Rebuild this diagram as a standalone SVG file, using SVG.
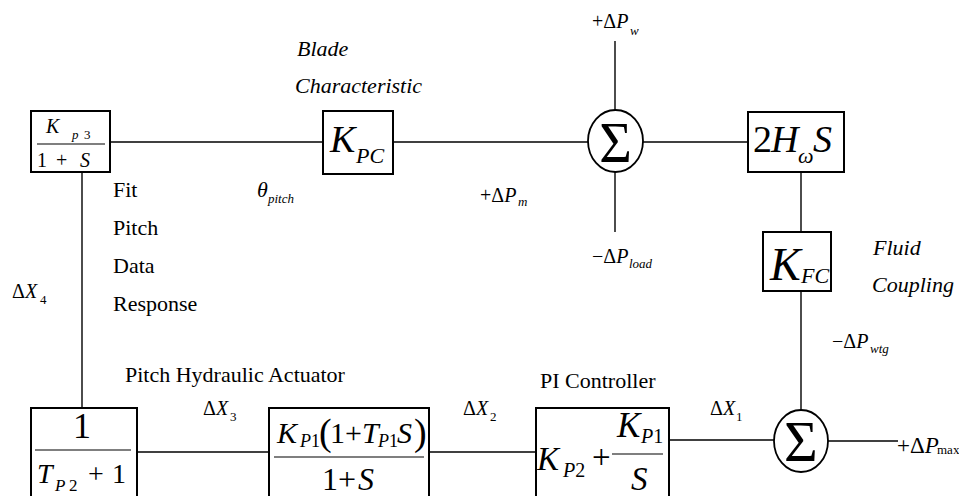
<svg xmlns="http://www.w3.org/2000/svg" width="959" height="496" viewBox="0 0 959 496" font-family="'Liberation Serif', Tinos, 'DejaVu Serif', serif">
<style>
text, tspan{font-family:"Liberation Serif", Tinos, "Times New Roman", "DejaVu Serif", serif;fill:#000}
.i{font-style:italic}
.box{fill:#fff;stroke:#000;stroke-width:2}
.sum{fill:#fff;stroke:#000;stroke-width:1.8}
.ln{stroke:#000;stroke-width:1.4;fill:none}
.fr{stroke:#000;stroke-width:1.2}
.lb{font-size:22px}
.m{font-size:20px}
.s{font-size:13px}
</style>
<rect width="959" height="496" fill="#fff"/>
<g id="connectors">
<line class="ln" x1="110" y1="142" x2="323" y2="142"/>
<line class="ln" x1="393" y1="142" x2="588" y2="142"/>
<line class="ln" x1="643" y1="142" x2="753" y2="142"/>
<line class="ln" x1="615" y1="41" x2="615" y2="110"/>
<line class="ln" x1="615" y1="172" x2="615" y2="232"/>
<line class="ln" x1="801" y1="172" x2="801" y2="232"/>
<line class="ln" x1="801" y1="291" x2="801" y2="410"/>
<line class="ln" x1="669" y1="440" x2="774" y2="440"/>
<line class="ln" x1="429" y1="452" x2="536" y2="452"/>
<line class="ln" x1="137" y1="452" x2="269" y2="452"/>
<line class="ln" x1="82" y1="172" x2="82" y2="408"/>
<line class="ln" x1="828" y1="441" x2="898" y2="441"/>
</g>
<g id="fit-pitch">
<rect class="box" x="31" y="111" width="79" height="61"/>
<text class="i" x="46" y="133" font-size="20">K</text>
<text class="s" x="72" y="139"><tspan class="i">p</tspan><tspan x="84">3</tspan></text>
<line class="fr" x1="37" y1="144" x2="105" y2="144"/>
<text x="37" y="167" font-size="20">1</text>
<text x="56" y="167" font-size="20">+</text>
<text class="i" x="80" y="167" font-size="20">S</text>
</g>
<g id="kpc">
<rect class="box" x="323" y="111" width="70" height="63"/>
<text class="i" x="330" y="152" font-size="38">K</text>
<text class="i" x="356" y="163" font-size="22">PC</text>
</g>
<g id="sum1">
<ellipse class="sum" cx="615.5" cy="141" rx="27.5" ry="31"/>
<text x="615.5" y="162" font-size="56" text-anchor="middle">Σ</text>
</g>
<g id="inertia">
<rect class="box" x="748" y="112" width="96" height="60"/>
<text x="753" y="152" font-size="38">2</text>
<text class="i" x="771" y="152" font-size="38">H</text>
<text class="i" x="798" y="163" font-size="22">ω</text>
<text class="i" x="813" y="152" font-size="38">S</text>
</g>
<g id="kfc">
<rect class="box" x="763" y="232" width="68" height="59"/>
<text class="i" x="770" y="280" font-size="46">K</text>
<text class="i" x="801" y="283" font-size="22">FC</text>
</g>
<g id="sum2">
<ellipse class="sum" cx="801" cy="441" rx="27" ry="31"/>
<text x="801" y="461" font-size="58" text-anchor="middle">Σ</text>
</g>
<g id="pi-controller">
<rect class="box" x="536" y="408" width="133" height="100"/>
<text class="i" x="537" y="470" font-size="33">K</text>
<text class="i" x="563" y="477" font-size="20">P<tspan font-style="normal">2</tspan></text>
<text x="592" y="468" font-size="33">+</text>
<text class="i" x="617" y="437" font-size="35">K</text>
<text class="i" x="641" y="443" font-size="20">P<tspan font-style="normal">1</tspan></text>
<line class="fr" x1="612" y1="454" x2="663" y2="454"/>
<text class="i" x="631" y="490" font-size="33">S</text>
</g>
<g id="actuator">
<rect class="box" x="269" y="408" width="160" height="100"/>
<text class="i" x="277" y="443" font-size="30">K</text>
<text class="i" x="300" y="447" font-size="18">P<tspan font-style="normal">1</tspan></text>
<text x="319" y="445" font-size="38">(</text>
<text x="330" y="443" font-size="30">1+</text>
<text class="i" x="362" y="443" font-size="30">T</text>
<text class="i" x="378" y="447" font-size="18">P<tspan font-style="normal">1</tspan></text>
<text class="i" x="397" y="443" font-size="30">S</text>
<text x="414" y="445" font-size="38">)</text>
<line class="fr" x1="274" y1="457" x2="424" y2="457"/>
<text x="322" y="490" font-size="32">1+</text>
<text class="i" x="358" y="490" font-size="32">S</text>
</g>
<g id="pitch-data">
<rect class="box" x="31" y="408" width="106" height="100"/>
<text x="82" y="438" font-size="36" text-anchor="middle">1</text>
<line class="fr" x1="35" y1="450" x2="131" y2="450"/>
<text class="i" x="37" y="483" font-size="28">T</text>
<text class="i" x="55" y="491" font-size="17">P</text>
<text x="69" y="491" font-size="17">2</text>
<text x="88" y="483" font-size="28">+</text>
<text x="112" y="483" font-size="28">1</text>
</g>
<g id="labels">
<text class="lb i" x="297" y="56">Blade</text>
<text class="lb i" x="295" y="93">Characteristic</text>
<text class="lb" x="113" y="197">Fit</text>
<text class="lb" x="113" y="235">Pitch</text>
<text class="lb" x="113" y="273">Data</text>
<text class="lb" x="113" y="311">Response</text>
<text class="lb" x="125" y="382">Pitch Hydraulic Actuator</text>
<text class="lb" x="540" y="388">PI Controller</text>
<text class="lb i" x="873" y="255">Fluid</text>
<text class="lb i" x="872" y="292">Coupling</text>
<text class="i" x="257" y="197" font-size="22">θ</text>
<text class="s i" x="268" y="203">pitch</text>
<text class="m" x="592" y="28">+Δ<tspan class="i">P</tspan></text>
<text class="s i" x="630" y="35">w</text>
<text class="m" x="592" y="263">−Δ<tspan class="i">P</tspan></text>
<text class="s i" x="629" y="268">load</text>
<text class="m" x="480" y="202">+Δ<tspan class="i">P</tspan></text>
<text class="s i" x="518" y="206">m</text>
<text class="m" x="832" y="348">−Δ<tspan class="i">P</tspan></text>
<text class="s i" x="870" y="353">wtg</text>
<text x="897" y="453" font-size="23">+Δ<tspan class="i">P</tspan></text>
<text x="937" y="454" font-size="13">max</text>
<text class="m" x="203" y="415">Δ<tspan class="i">X</tspan></text>
<text class="s" x="230" y="421">3</text>
<text class="m" x="463" y="415">Δ<tspan class="i">X</tspan></text>
<text class="s" x="490" y="421">2</text>
<text class="m" x="710" y="415">Δ<tspan class="i">X</tspan></text>
<text class="s" x="736" y="421">1</text>
<text class="m" x="12" y="298">Δ<tspan class="i">X</tspan></text>
<text class="s" x="40" y="304">4</text>
</g>
</svg>
